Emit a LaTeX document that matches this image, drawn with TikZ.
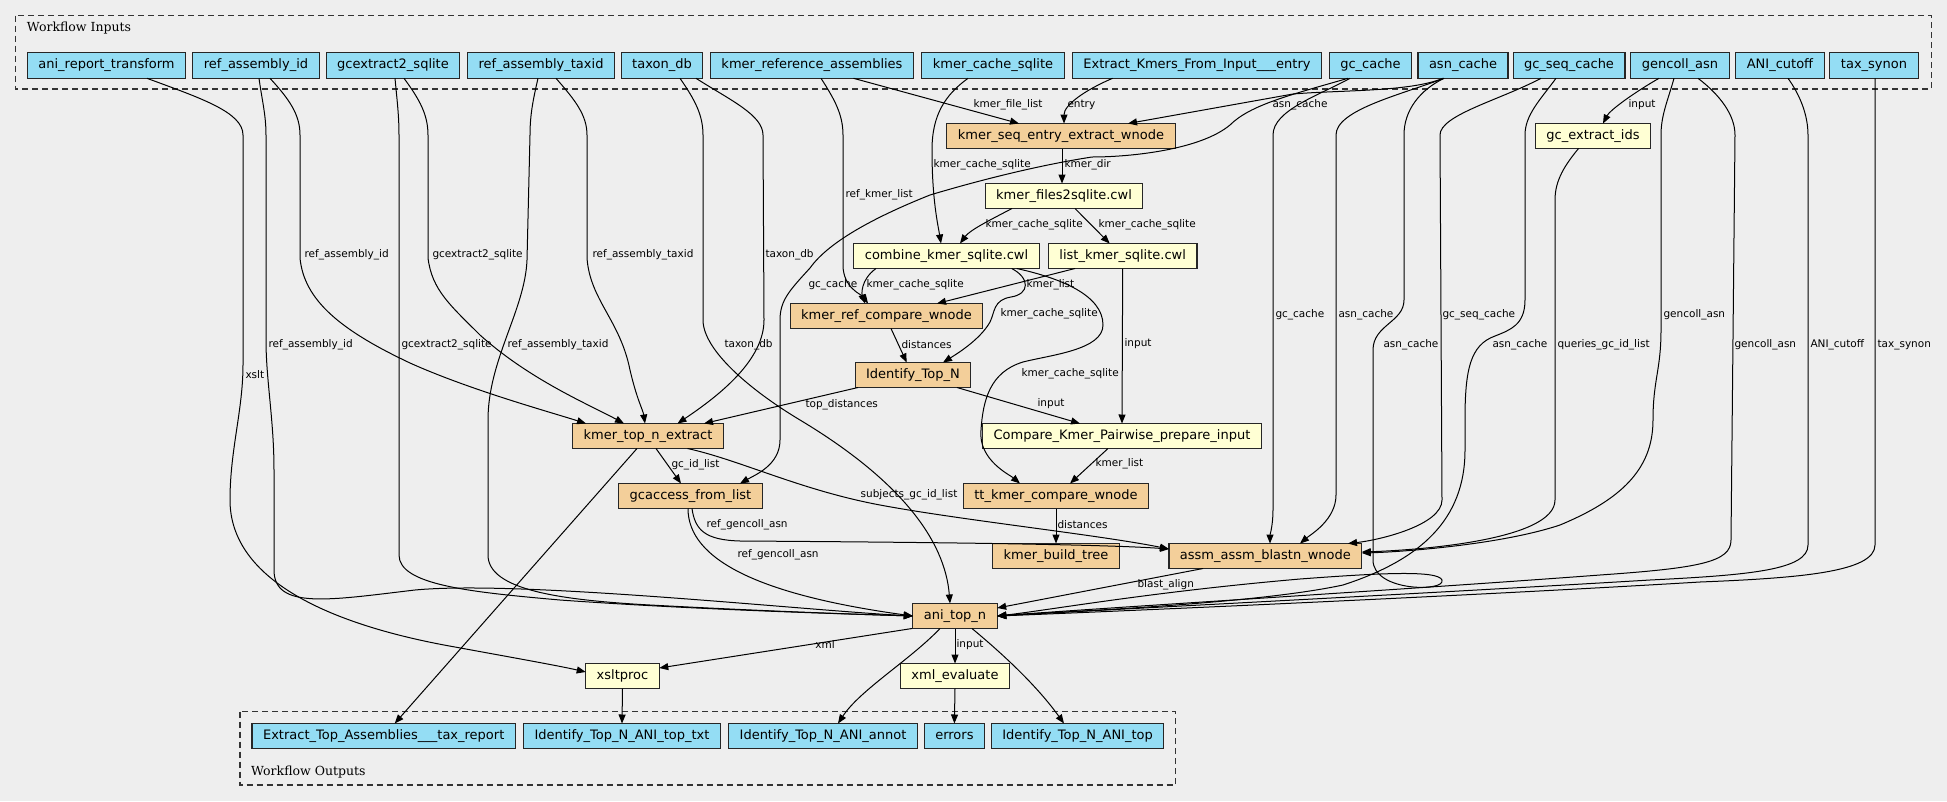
\documentclass[tikz,border=0pt]{standalone}
\usepackage{fontspec}
\setmainfont{DejaVu Sans}
\newfontfamily\clusterfont{DejaVu Serif}
\usetikzlibrary{arrows.meta}
\definecolor{bgcol}{HTML}{EEEEEE}
\definecolor{ioblue}{HTML}{94DDF4}
\definecolor{stepor}{HTML}{F3CF9A}
\definecolor{toolyl}{HTML}{FFFFD4}

\begin{document}
\begin{tikzpicture}[x=1pt,y=-1pt,
                every path/.style={>={Triangle[length=9pt,width=7pt]}},
                box node/.style={draw=black!85,line width=1.1pt,rectangle,inner xsep=11pt,inner ysep=0pt,
                                 minimum height=25pt,text height=9.5pt,text depth=3pt,outer sep=0pt,
                                 font=\fontsize{13}{15}\selectfont},
                io node/.style={box node,fill=ioblue,minimum height=26pt},
                work node/.style={box node,fill=stepor},
                tool node/.style={box node,fill=toolyl},
                wire/.style={->,line width=1pt},
                lbl/.style={anchor=west,inner sep=0pt,font=\fontsize{10.5}{12}\selectfont},
                cluster/.style={dash pattern=on 6pt off 4pt,line width=1.1pt,black!80}]
  \fill[bgcol] (0,0) rectangle (1947,801);
  \useasboundingbox (0,0) rectangle (1947,801);

  % clusters
  \draw[cluster] (15.6,15.7) rectangle (1931.3,89);
  \node[anchor=west,inner sep=0pt,font=\clusterfont\fontsize{12.5}{14}\selectfont] (inlbl) at (26.8,28) {Workflow Inputs};
  \draw[cluster] (240,711.7) rectangle (1175.8,785);
  \node[anchor=west,inner sep=0pt,font=\clusterfont\fontsize{12.5}{14}\selectfont] (outlbl) at (251,771.7) {Workflow Outputs};

  % workflow inputs
  \node[io node] (rai)  at (106.5,65.3) {ani\_report\_transform};
  \node[io node] (raid) at (256,65.3)   {ref\_assembly\_id};
  \node[io node] (gcx)  at (393,65.3)   {gcextract2\_sqlite};
  \node[io node] (rat)  at (541,65.3)   {ref\_assembly\_taxid};
  \node[io node] (tdb)  at (662,65.3)   {taxon\_db};
  \node[io node] (kra)  at (812,65.3)   {kmer\_reference\_assemblies};
  \node[io node] (kcs)  at (993,65.3)   {kmer\_cache\_sqlite};
  \node[io node] (eke)  at (1197,65.3)  {Extract\_Kmers\_From\_Input\_\_\_entry};
  \node[io node] (gcc)  at (1370.5,65.3) {gc\_cache};
  \node[io node] (asn)  at (1463,65.3)  {asn\_cache};
  \node[io node] (gsc)  at (1569,65.3)  {gc\_seq\_cache};
  \node[io node] (gca)  at (1680,65.3)  {gencoll\_asn};
  \node[io node] (ani)  at (1780,65.3)  {ANI\_cutoff};
  \node[io node] (tsy)  at (1874,65.3)  {tax\_synon};

  % steps
  \node[work node] (kse) at (1061,136)   {kmer\_seq\_entry\_extract\_wnode};
  \node[tool node] (gce) at (1593,136)   {gc\_extract\_ids};
  \node[tool node] (kfs) at (1064,196)   {kmer\_files2sqlite.cwl};
  \node[tool node] (cks) at (946.5,256)  {combine\_kmer\_sqlite.cwl};
  \node[tool node] (lks) at (1122.7,256) {list\_kmer\_sqlite.cwl};
  \node[work node] (krc) at (886.5,316)  {kmer\_ref\_compare\_wnode};
  \node[work node] (itn) at (913,375)    {Identify\_Top\_N};
  \node[work node] (kte) at (648,436)    {kmer\_top\_n\_extract};
  \node[tool node] (ckp) at (1122,436)   {Compare\_Kmer\_Pairwise\_prepare\_input};
  \node[work node] (gfl) at (690.5,496)  {gcaccess\_from\_list};
  \node[work node] (tkc) at (1056,496)   {tt\_kmer\_compare\_wnode};
  \node[work node] (kbt) at (1056,556)   {kmer\_build\_tree};
  \node[work node] (aab) at (1265.4,556) {assm\_assm\_blastn\_wnode};
  \node[work node] (atn) at (955,616)    {ani\_top\_n};
  \node[tool node] (xsl) at (622.5,676)  {xsltproc};
  \node[tool node] (xev) at (955,676)    {xml\_evaluate};

  % workflow outputs
  \node[io node,minimum height=25pt] (eta) at (383.7,736) {Extract\_Top\_Assemblies\_\_\_tax\_report};
  \node[io node,minimum height=25pt] (itt) at (622,736)   {Identify\_Top\_N\_ANI\_top\_txt};
  \node[io node,minimum height=25pt] (ita) at (823,736)   {Identify\_Top\_N\_ANI\_annot};
  \node[io node,minimum height=25pt] (err) at (954.4,736) {errors};
  \node[io node,minimum height=25pt] (itp) at (1077.6,736) {Identify\_Top\_N\_ANI\_top};

  % inputs on the left
  \draw[wire] ([xshift=40.5pt]rai.south) .. controls (200,98) and (243,112) .. (243,135) -- (243,365) .. controls (243,410) and (230,450) .. (230,500) .. controls (230,580) and (330,625) .. (455,647) .. controls (515,658) and (560,666) .. ([yshift=4pt]xsl.west) node[lbl] at (245,375) {xslt};
  \draw[wire] ([xshift=14pt]raid.south) .. controls (290,100) and (300,115) .. (300,135) -- (300,258) .. controls (304,300) and (340,330) .. (410,363) .. controls (470,390) and (550,412) .. ([xshift=-62pt]kte.north) node[lbl] at (304,255) {ref\_assembly\_id};
  \draw[wire] ([xshift=3pt]raid.south) .. controls (262,100) and (266,115) .. (266,135) -- (266,340) .. controls (266,380) and (274,420) .. (274,470) -- (274,570) .. controls (274,610) and (330,600) .. (415,590) .. controls (520,580) and (800,610) .. (atn.west) node[lbl] at (268,345) {ref\_assembly\_id};
  \draw[wire] ([xshift=11pt]gcx.south) .. controls (420,100) and (428,115) .. (428,135) -- (428,258) .. controls (432,290) and (450,305) .. (480,335) .. controls (530,380) and (590,405) .. ([xshift=-24pt]kte.north) node[lbl] at (432,255) {gcextract2\_sqlite};
  \draw[wire] ([xshift=2pt]gcx.south) .. controls (397,100) and (399,115) .. (399,135) -- (399,555) .. controls (399,585) and (470,592) .. (560,600) .. controls (700,610) and (850,614) .. (atn.west) node[lbl] at (401,345) {gcextract2\_sqlite};
  \draw[wire] ([xshift=15pt]rat.south) .. controls (575,100) and (587,115) .. (587,135) -- (587,258) .. controls (590,300) and (620,320) .. (630,370) .. controls (637,400) and (643,410) .. ([xshift=-3pt]kte.north) node[lbl] at (592,255) {ref\_assembly\_taxid};
  \draw[wire] ([xshift=-3pt]rat.south) .. controls (533,100) and (530,115) .. (530,135) -- (527,260) .. controls (525,310) and (488,360) .. (488,420) -- (488,555) .. controls (488,590) and (560,600) .. (650,605) .. controls (780,612) and (880,615) .. (atn.west) node[lbl] at (507,345) {ref\_assembly\_taxid};
  \draw[wire] ([xshift=34pt]tdb.south) .. controls (730,100) and (763,115) .. (763,135) -- (764,320) .. controls (764,360) and (720,395) .. ([xshift=29.5pt]kte.north) node[lbl] at (765,255) {taxon\_db};
  \draw[wire] ([xshift=18pt]tdb.south) .. controls (695,100) and (703,115) .. (703,135) -- (703,320) .. controls (703,350) and (750,390) .. (800,420) .. controls (900,480) and (945,540) .. ([xshift=-5pt]atn.north) node[lbl] at (724,345) {taxon\_db};
  \draw[wire] ([xshift=41.5pt]kra.south) -- ([xshift=-42pt]kse.north) node[lbl,anchor=center] at (1008,105) {kmer\_file\_list};
  \draw[wire] ([xshift=9pt]kra.south) .. controls (835,100) and (843,115) .. (843,135) -- (843,265) .. controls (843,288) and (862,295) .. ([xshift=-18.5pt]krc.north) node[lbl] at (845,195) {ref\_kmer\_list};
  \draw[wire] ([xshift=-25pt]kcs.south) .. controls (945,95) and (932,115) .. (932,150) .. controls (932,200) and (938,225) .. ([xshift=-5.5pt]cks.north) node[lbl] at (933,165) {kmer\_cache\_sqlite};
  \draw[wire] ([xshift=-84.4pt]eke.south) .. controls (1085,90) and (1064,105) .. ([xshift=3pt]kse.north) node[lbl] at (1067,105) {entry};

  % inputs on the right
  \draw[wire] ([xshift=-20pt]asn.south) .. controls (1410,92) and (1340,90) .. (1293,94) -- ([xshift=67pt]kse.north) node[lbl,anchor=center] at (1300,105) {asn\_cache};
  \draw[wire] ([xshift=-22.5pt]gcc.south) .. controls (1290,95) and (1250,105) .. (1230,125) .. controls (1200,150) and (1130,157) .. (1092,157) .. controls (1040,165) and (980,180) .. (930,195) .. controls (880,215) and (830,240) .. (810,268) .. controls (790,290) and (780,300) .. (780,320) -- (780,440) .. controls (780,465) and (755,475) .. ([xshift=49.5pt]gfl.north) node[lbl] at (808,285) {gc\_cache};
  \draw[wire] ([xshift=-20.5pt]gcc.south) .. controls (1320,95) and (1273,110) .. (1273,135) -- (1273,510) .. controls (1273,525) and (1270,535) .. ([xshift=4.6pt]aab.north) node[lbl] at (1275,315) {gc\_cache};
  \draw[wire] ([xshift=-19pt]asn.south) .. controls (1400,95) and (1336,110) .. (1336,135) -- (1336,495) .. controls (1336,520) and (1310,535) .. ([xshift=34.6pt]aab.north) node[lbl] at (1338,315) {asn\_cache};
  \draw[wire] ([xshift=-19pt]asn.south) .. controls (1420,90) and (1404,110) .. (1404,135) -- (1404,300) .. controls (1404,322) and (1373,325) .. (1373,350) -- (1373,560) .. controls (1373,592) and (1446,592) .. (1442,580) .. controls (1438,570) and (1380,573) .. (1300,579) .. controls (1150,592) and (1050,610) .. (atn.east) node[lbl] at (1383,345) {asn\_cache};
  \draw[wire] ([xshift=-28pt]gsc.south) .. controls (1500,100) and (1440,115) .. (1440,135) -- (1442,500) .. controls (1442,525) and (1380,540) .. ([xshift=82.6pt]aab.north) node[lbl] at (1442,315) {gc\_seq\_cache};
  \draw[wire] ([xshift=-13pt]gsc.south) .. controls (1540,100) and (1525,115) .. (1525,135) -- (1525,300) .. controls (1525,325) and (1510,330) .. (1495,336) .. controls (1470,345) and (1465,370) .. (1465,420) -- (1465,450) .. controls (1465,520) and (1420,560) .. (1343,585) .. controls (1250,605) and (1050,612) .. (atn.east) node[lbl] at (1492,345) {asn\_cache};
  \draw[wire] ([xshift=-14.5pt]gce.south) .. controls (1565,165) and (1555,180) .. (1555,200) -- (1555,500) .. controls (1555,540) and (1420,550) .. ([yshift=4pt]aab.east) node[lbl] at (1557,345) {queries\_gc\_id\_list};
  \draw[wire] ([xshift=-21pt]gca.south) .. controls (1635,92) and (1610,110) .. ([xshift=10pt]gce.north) node[lbl] at (1628,105) {input};
  \draw[wire] ([xshift=-6pt]gca.south) .. controls (1668,100) and (1661,115) .. (1661,135) -- (1661,330) .. controls (1661,370) and (1653,380) .. (1653,420) .. controls (1653,470) and (1620,500) .. (1560,525) .. controls (1500,545) and (1400,552) .. ([yshift=3pt]aab.east) node[lbl] at (1663,315) {gencoll\_asn};
  \draw[wire] ([xshift=18pt]gca.south) .. controls (1720,95) and (1735,115) .. (1735,135) -- (1731,540) .. controls (1731,562) and (1700,568) .. (1600,575) .. controls (1400,590) and (1100,608) .. (atn.east) node[lbl] at (1734,345) {gencoll\_asn};
  \draw[wire] ([xshift=8pt]ani.south) .. controls (1800,95) and (1808,115) .. (1808,135) -- (1808,545) .. controls (1808,570) and (1750,575) .. (1650,580) .. controls (1400,595) and (1100,610) .. (atn.east) node[lbl] at (1810,345) {ANI\_cutoff};
  \draw[wire] ([xshift=1pt]tsy.south) -- (1875,545) .. controls (1875,572) and (1800,578) .. (1700,582) .. controls (1450,597) and (1100,612) .. (atn.east) node[lbl] at (1877,345) {tax\_synon};

  % between steps
  \draw[wire] ([xshift=1pt]kse.south) -- ([xshift=-2pt]kfs.north) node[lbl] at (1064,165) {kmer\_dir};
  \draw[wire] ([xshift=-52pt]kfs.south) .. controls (990,220) and (970,230) .. ([xshift=13.5pt]cks.north) node[lbl] at (985,225) {kmer\_cache\_sqlite};
  \draw[wire] ([xshift=11pt]kfs.south) -- ([xshift=-13pt]lks.north) node[lbl] at (1098,225) {kmer\_cache\_sqlite};
  \draw[wire] ([xshift=-70.5pt]cks.south) .. controls (860,280) and (862,295) .. ([xshift=-21.5pt]krc.north) node[lbl] at (866,285) {kmer\_cache\_sqlite};
  \draw[wire] ([xshift=-47.7pt]lks.south) -- ([xshift=50.5pt]krc.north) node[lbl] at (1026,285) {kmer\_list};
  \draw[wire] ([xshift=65.2pt]cks.south) .. controls (1030,278) and (1030,294) .. (1011,297) .. controls (993,300) and (995,312) .. (990,322) .. controls (980,340) and (955,355) .. ([xshift=30pt]itn.north) node[lbl] at (1000,314) {kmer\_cache\_sqlite};
  \draw[wire] ([xshift=70.2pt]cks.south) .. controls (1060,278) and (1103,295) .. (1103,325) .. controls (1103,350) and (1050,355) .. (1023,362) .. controls (990,372) and (983,400) .. (981,430) .. controls (978,460) and (1010,475) .. ([xshift=-36pt]tkc.north) node[lbl] at (1021,374) {kmer\_cache\_sqlite};
  \draw[wire] (lks.south) -- (ckp.north) node[lbl] at (1124,344) {input};
  \draw[wire] ([xshift=4.5pt]krc.south) -- ([xshift=-6.3pt]itn.north) node[lbl] at (901,345) {distances};
  \draw[wire] ([xshift=44pt]itn.south) -- ([xshift=-42pt]ckp.north) node[lbl] at (1037,404) {input};
  \draw[wire] ([xshift=-55pt]itn.south) -- ([xshift=56pt]kte.north) node[lbl] at (805,405) {top\_distances};
  \draw[wire] ([xshift=-14pt]ckp.south) -- ([xshift=14pt]tkc.north) node[lbl] at (1095,464) {kmer\_list};
  \draw[wire] ([xshift=8pt]kte.south) -- ([xshift=-9.5pt]gfl.north) node[lbl] at (671,465) {gc\_id\_list};
  \draw[wire] (tkc.south) -- (kbt.north) node[lbl] at (1057,525) {distances};
  \draw[wire] ([xshift=39.5pt]kte.south) .. controls (740,460) and (800,490) .. (880,505) .. controls (960,520) and (1100,535) .. ([yshift=7pt]aab.west) node[lbl,anchor=center] at (909,495) {subjects\_gc\_id\_list};
  \draw[wire] ([xshift=1.5pt]gfl.south) .. controls (695,530) and (705,540) .. (740,541) .. controls (900,542) and (1100,544) .. ([yshift=7pt]aab.west) node[lbl] at (706,525) {ref\_gencoll\_asn};
  \draw[wire] ([xshift=-2.5pt]gfl.south) .. controls (688,560) and (760,595) .. (atn.west) node[lbl] at (737,555) {ref\_gencoll\_asn};
  \draw[wire] ([xshift=-11pt]kte.south) -- ([xshift=11pt]eta.north);
  \draw[wire] ([xshift=-62.4pt]aab.south) -- ([yshift=8pt]atn.east) node[lbl] at (1137,585) {blast\_align};

  % towards the outputs
  \draw[wire] ([xshift=-43pt]atn.south) -- ([yshift=8pt]xsl.east) node[lbl,anchor=center] at (825,645) {xml};
  \draw[wire] ([xshift=-15pt]atn.south) .. controls (910,660) and (860,690) .. ([xshift=15pt]ita.north);
  \draw[wire] (atn.south) -- (xev.north) node[lbl] at (956,645) {input};
  \draw[wire] ([xshift=17pt]atn.south) .. controls (1010,660) and (1040,690) .. ([xshift=-13.6pt]itp.north);
  \draw[wire] (xsl.south) -- (itt.north);
  \draw[wire] (xev.south) -- (err.north);
\end{tikzpicture}
\end{document}
